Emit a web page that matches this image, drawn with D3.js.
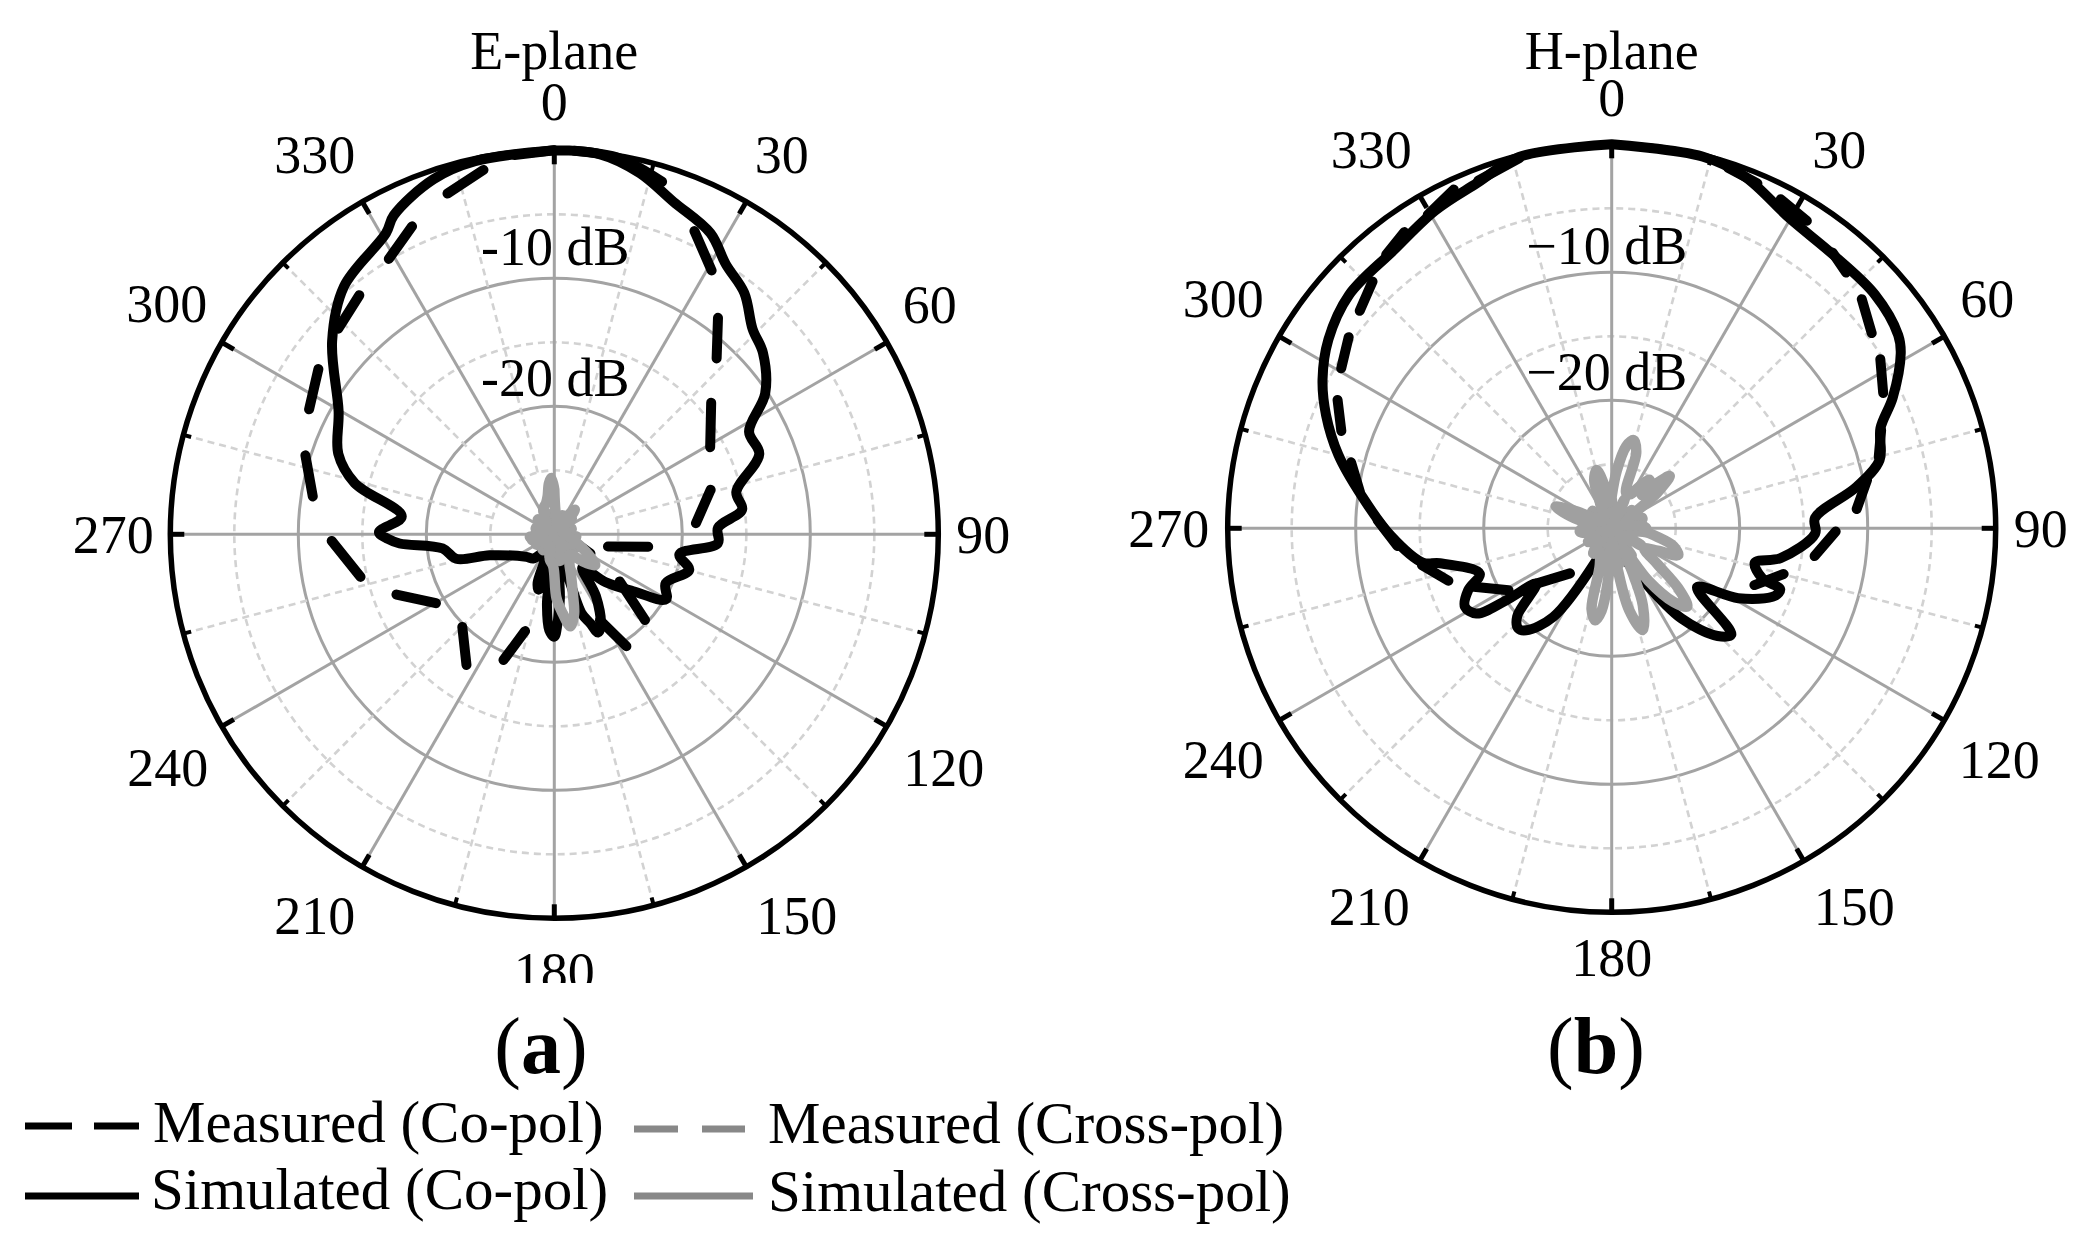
<!DOCTYPE html>
<html><head><meta charset="utf-8">
<script src="https://cdn.jsdelivr.net/npm/d3@7"></script>
<style>html,body{margin:0;padding:0;background:#fff}svg{display:block}text{font-family:"Liberation Serif",serif;fill:#000}</style>
</head><body><svg id="c" width="2082" height="1245"></svg>
<script>
// ---------- data (angle in degrees, level in dB) ----------
const angleTicks = [0,30,60,90,120,150,180,210,240,270,300,330];
const angleMinor = [15,45,75,105,135,165,195,225,255,285,315,345];
const ringSolid = [-20,-10];
const ringDashed = [-25,-15,-5];

const eSimAngle = [0,6.9,13.3,19.7,27.4,32.4,38.2,44,49,56.3,62.2,68.6,76.9,82.5,87.7,93.1,99.1,104.8,113.7,120.1,125.8,133,140,146,153,156,158,161,165,172,175,178,180,183,186,188,192,196,199,205,221,231,252,256,262.8,266.6,268.4,270.7,276.7,284.4,290.4,299.7,311,319.7,330.8,333.3,341.2,348,360];
const eSimDb =    [0,-0.1,-1,-2.4,-3.5,-5,-6,-7.7,-8.4,-10.2,-12.8,-12.8,-15.4,-15.2,-17.2,-17.2,-20.1,-19.1,-20.5,-19.9,-22.4,-24.5,-26.6,-24.2,-22,-21.6,-22.5,-23.5,-27.5,-27,-25,-23,-22,-22.5,-24.5,-27,-27,-25.5,-26,-28.5,-27.5,-27.2,-24.7,-22.1,-21.2,-17.9,-17,-16.3,-18,-13.9,-12,-10.6,-7,-4.6,-3.05,-2.1,-0.7,-0.2,0];

const eMeasAngle = [3,10,17,null,24.8,30.8,null,37.1,42.7,null,50,60.8,null,74.1,85.5,null,97.5,102.8,null,108,118,null,125.8,133.4,null,147.2,152,null,196.8,202,null,213.9,224.8,null,239.8,249.1,null,257.6,268.3,null,278.9,287.6,null,297,305,null,313.6,320.8,null,329,335.2,null,342.6,349,null,354,360];
const eMeasDb =    [0,-0.2,-1.2,null,-3.9,-6,null,-8.8,-11.3,null,-14,-16.05,null,-17.3,-18.9,null,-22.6,-25.7,null,-28.6,-26.8,null,-23.7,-20.25,null,-19.6,-22.4,null,-22.1,-19.4,null,-17.7,-19.8,null,-19.3,-16.8,null,-14.5,-12.6,null,-10.9,-9.6,null,-8.5,-7.5,null,-6.7,-5.9,null,-4.9,-3.5,null,-2.1,-1,null,-0.2,0];

const eCrossAngle = [0,10,25,35,40,45,60,80,95,110,120,127,134,142,152,158,163,166,170,174,178,182,190,200,225,245,256,262,280,310,330,337,345,350,354,357,360];
const eCrossDb =    [-26.5,-28.8,-29,-28.3,-27.5,-28.5,-29.3,-29.3,-29,-28.2,-27,-26,-27,-28,-27.5,-26.5,-25,-23.6,-22.7,-23.8,-25,-27.5,-28,-29,-29,-28.8,-28.2,-28.5,-29.2,-29.2,-28.5,-27.8,-27.5,-27,-26,-25.6,-26.5];

const hubAngle = [0,12,24,36,48,60,72,84,96,108,120,132,144,156,168,180,192,204,216,228,240,252,264,276,288,300,312,324,336,348,360];
const eCrossHubDb = [-28.2,-29.6,-28.4,-29.7,-28.2,-29.6,-28.6,-29.5,-28.3,-29.6,-28,-29.7,-28.2,-29.5,-27.9,-29.6,-28.3,-29.7,-28.5,-29.6,-28.4,-29.5,-28.1,-29.7,-28.5,-29.6,-28.3,-29.5,-28,-29.6,-28.2];

const hSimAngle = [0,13.7,20.6,30.1,38.9,48.4,56,58.8,65.1,69.6,75.7,80.4,87.1,91.5,100,103.5,108.4,109.9,112.5,118.9,124.6,131.6,135.5,142.3,150,158,170,190,205.3,213.4,220,223,227,233.7,235.7,237.8,241.9,246.7,251,258.5,259.7,268,277.4,285,291.6,297.2,303.7,311.6,321.9,331,338.7,346,360];
const hSimDb =    [0,-0.1,-0.6,-2.1,-2.5,-2.5,-3,-3.6,-5.8,-7.6,-8.4,-10.6,-14.1,-14.1,-16.6,-18.5,-17.6,-16,-16.2,-18.7,-21.9,-17.5,-18.2,-21.1,-25.7,-27.6,-29,-29.5,-27.3,-21.7,-19.6,-19.3,-19.9,-22.7,-20,-17.5,-17,-17.8,-19.1,-16.3,-15,-12.75,-10.3,-7.9,-6,-4.6,-3.4,-2.55,-2.4,-1.6,-1.05,-0.1,0];

const hMeasAngle = [17.9,22.9,null,27.2,32.4,null,38.7,42.5,null,47.5,53.1,null,57.8,63.5,null,70,75,null,79.3,85.5,null,90.8,97.8,null,104.9,111.7,null,222.8,233.7,null,239,247,null,252.2,259,null,265.3,272,null,278.4,284.2,null,289.8,295.1,null,300.6,306,null,310.8,315.9,null,320.5,325,null,329.6,335,null,339,346];
const hMeasDb =    [-0.4,-0.75,null,-1.1,-1.55,null,-2.4,-2.9,null,-3.5,-4.6,null,-5.2,-6.3,null,-7.6,-8.4,null,-9.7,-10.8,null,-12.5,-14,null,-16.1,-18,null,-25.2,-22.7,null,-20.6,-18.3,null,-16.6,-14.9,null,-13.2,-11.7,null,-10.1,-9,null,-7.55,-6.35,null,-5.45,-4.6,null,-4,-3.15,null,-2.3,-1.75,null,-1.6,-0.8,null,-0.9,-0.2];

const hCrossAngle = [0,5,10,14,18,22,28,34,38,42,45,48,52,60,75,85,90,95,100,106,112,116,122,128,132,136,140,145,150,155,158,163,168,172,178,184,187,190,194,198,210,216,230,250,264,270,280,285,291,296,305,325,335,340,345.5,350,355,360];
const hCrossDb =    [-27.5,-25.5,-23.5,-22.9,-23.8,-27,-27,-26,-25.2,-26.5,-25,-23.9,-25.5,-28.5,-29,-27.6,-27.3,-27.3,-26.5,-25,-24.4,-26,-27,-25.5,-23,-21.5,-22.5,-25,-28,-26,-23.5,-21.7,-23.5,-27,-29,-26,-23.5,-22.7,-23.5,-27,-28,-27.6,-28.5,-28.5,-27.5,-27.7,-28.5,-27,-25.3,-27,-29,-29,-28,-26,-25.3,-26.5,-28,-27.5];
const hCrossHubDb = [-27.8,-29.5,-27.6,-29.6,-27.9,-29.5,-27.5,-29.7,-27.3,-29.5,-27.4,-29.6,-27.4,-29.5,-27.2,-29.6,-27.3,-29.5,-27.6,-29.7,-27.9,-29.5,-27.6,-29.6,-27.9,-29.5,-28,-29.6,-27.8,-29.5,-27.8];

const legendLabels = ["Measured (Co-pol)","Simulated (Co-pol)","Measured (Cross-pol)","Simulated (Cross-pol)"];
const panelTitles = ["E-plane","H-plane"];
const panelLetters = ["a","b"];

// ---------- drawing ----------
const svg = d3.select("#c");
svg.append("rect").attr("width",2082).attr("height",1245).attr("fill","#fff");

const R = 384;
const rScale = d3.scaleLinear().domain([-30,0]).range([0,R]);
const rad = d => d*Math.PI/180;
const GRID="#a3a3a3", GRIDL="#d2d2d2", CROSS="#a0a0a0";
const zip = (a,b) => a.map((v,i)=>({a:v,db:b[i]}));
const radial = d3.lineRadial()
  .defined(d=>d.a!==null)
  .angle(d=>rad(d.a))
  .radius(d=>rScale(d.db))
  .curve(d3.curveCatmullRom.alpha(0.5));

// label placement nudges around the label circle, in angleTicks order
const labelNudge = {
  E:[[0,4],[9,-1],[-3,-11],[-8,0],[11,15],[24,3],[0,0],[-21,3],[-8,15],[-4,0],[-9,-12],[-21,-1]],
  H:[[0,6],[9,0],[-3,-11],[-8,0],[9,13],[24,0],[0,-8],[-24,0],[-10,13],[-6,0],[-10,-11],[-22,0]]
};

function panel(cfg){
  const g = svg.append("g").attr("transform",`translate(${cfg.cx},${cfg.cy})`);
  g.selectAll(".rs").data(ringSolid).join("circle").attr("r",d=>rScale(d))
    .attr("fill","none").attr("stroke",GRID).attr("stroke-width",3);
  g.selectAll(".rd").data(ringDashed).join("circle").attr("r",d=>rScale(d))
    .attr("fill","none").attr("stroke",GRIDL).attr("stroke-width",2.6).attr("stroke-dasharray","7 5");
  g.selectAll(".sm").data(angleMinor).join("line")
    .attr("x1",d=>rScale(-25)*Math.sin(rad(d))).attr("y1",d=>-rScale(-25)*Math.cos(rad(d)))
    .attr("x2",d=>R*Math.sin(rad(d))).attr("y2",d=>-R*Math.cos(rad(d)))
    .attr("stroke",GRIDL).attr("stroke-width",2.6).attr("stroke-dasharray","7 5");
  g.selectAll(".sj").data(angleTicks).join("line")
    .attr("x1",0).attr("y1",0)
    .attr("x2",d=>R*Math.sin(rad(d))).attr("y2",d=>-R*Math.cos(rad(d)))
    .attr("stroke",GRID).attr("stroke-width",3);
  g.selectAll(".tj").data(angleTicks).join("line")
    .attr("x1",d=>(R-14)*Math.sin(rad(d))).attr("y1",d=>-(R-14)*Math.cos(rad(d)))
    .attr("x2",d=>R*Math.sin(rad(d))).attr("y2",d=>-R*Math.cos(rad(d)))
    .attr("stroke","#000").attr("stroke-width",5);
  g.selectAll(".tm").data(angleMinor).join("line")
    .attr("x1",d=>(R-8)*Math.sin(rad(d))).attr("y1",d=>-(R-8)*Math.cos(rad(d)))
    .attr("x2",d=>R*Math.sin(rad(d))).attr("y2",d=>-R*Math.cos(rad(d)))
    .attr("stroke","#000").attr("stroke-width",4);
  g.append("circle").attr("r",R).attr("fill","none").attr("stroke","#000").attr("stroke-width",5.5);
  const curve=(ang,db,col,w)=>g.append("path").attr("d",radial(zip(ang,db)))
    .attr("fill","none").attr("stroke",col).attr("stroke-width",w)
    .attr("stroke-linejoin","round").attr("stroke-linecap","round");
  curve(cfg.measA,cfg.measD,"#000",10);
  curve(cfg.simA,cfg.simD,"#000",10);
  curve(hubAngle,cfg.hubD,CROSS,11);
  curve(cfg.crossA,cfg.crossD,CROSS,10.5);
  g.selectAll(".al").data(angleTicks).join("text")
    .attr("x",(d,i)=>437*Math.sin(rad(d))+cfg.nudge[i][0])
    .attr("y",(d,i)=>-437*Math.cos(rad(d))+cfg.nudge[i][1])
    .attr("dy",".34em").attr("text-anchor","middle").attr("font-size",54)
    .text(d=>d);
  g.selectAll(".db").data(cfg.dbLabels).join("text")
    .attr("x",cfg.dbDx).attr("y",(d,i)=>cfg.dbY[i]).attr("text-anchor","middle")
    .attr("font-size",54).text(d=>d);
  svg.append("text").attr("x",cfg.cx).attr("y",69).attr("text-anchor","middle").attr("font-size",54).text(cfg.title);
}

panel({cx:554.3,cy:534.3,title:panelTitles[0],simA:eSimAngle,simD:eSimDb,measA:eMeasAngle,measD:eMeasDb,crossA:eCrossAngle,crossD:eCrossDb,hubD:eCrossHubDb,nudge:labelNudge.E,
  dbLabels:["-10 dB","-20 dB"],dbDx:1,dbY:[-269,-138]});
panel({cx:1611.7,cy:528.3,title:panelTitles[1],simA:hSimAngle,simD:hSimDb,measA:hMeasAngle,measD:hMeasDb,crossA:hCrossAngle,crossD:hCrossDb,hubD:hCrossHubDb,nudge:labelNudge.H,
  dbLabels:["\u221210 dB","\u221220 dB"],dbDx:-5,dbY:[-264,-138]});

// the reference cuts the left "180" off at the bottom
svg.append("rect").attr("x",480).attr("y",983).attr("width",160).attr("height",24).attr("fill","#fff");

[[541,panelLetters[0]],[1596,panelLetters[1]]].forEach(([x,l])=>{
  const t=svg.append("text").attr("x",x).attr("y",1073).attr("text-anchor","middle").attr("font-size",80);
  t.append("tspan").text("(");
  t.append("tspan").attr("font-weight","bold").text(l);
  t.append("tspan").text(")");
});

const legendRows=[
 {lab:legendLabels[0],tx:153,ty:1142,x1:25,x2:139,ly:1126,col:"#000",dash:"47 22"},
 {lab:legendLabels[1],tx:151,ty:1209,x1:25,x2:139,ly:1196,col:"#000",dash:null},
 {lab:legendLabels[2],tx:768,ty:1143,x1:634,x2:745,ly:1129,col:"#888",dash:"44 24"},
 {lab:legendLabels[3],tx:768,ty:1211,x1:634,x2:753,ly:1196,col:"#888",dash:null}];
legendRows.forEach(r=>{
  svg.append("line").attr("x1",r.x1).attr("x2",r.x2).attr("y1",r.ly).attr("y2",r.ly)
    .attr("stroke",r.col).attr("stroke-width",7).attr("stroke-dasharray",r.dash);
  svg.append("text").attr("x",r.tx).attr("y",r.ty).attr("font-size",59).text(r.lab);
});
</script></body></html>
